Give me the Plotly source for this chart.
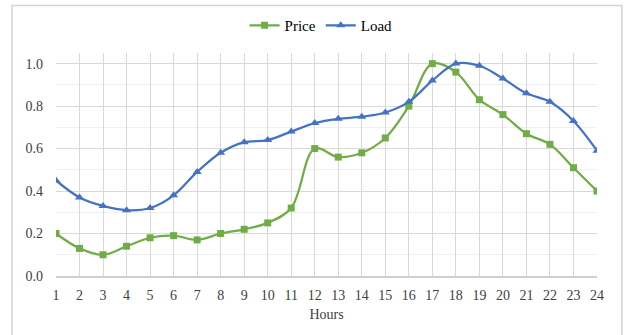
import plotly.graph_objects as go

# Hourly normalised profiles
hours = list(range(1, 25))
price = [0.20, 0.13, 0.10, 0.14, 0.18, 0.19, 0.17, 0.20, 0.22, 0.25, 0.32, 0.60,
         0.56, 0.58, 0.65, 0.80, 1.00, 0.96, 0.83, 0.76, 0.67, 0.62, 0.51, 0.40]
load = [0.45, 0.37, 0.33, 0.31, 0.32, 0.38, 0.49, 0.58, 0.63, 0.64, 0.68, 0.72,
        0.74, 0.75, 0.77, 0.82, 0.92, 1.00, 0.99, 0.93, 0.86, 0.82, 0.73, 0.59]
y_ticks = [0.0, 0.2, 0.4, 0.6, 0.8, 1.0]

GREEN = "#70AD47"
BLUE = "#4472C4"
FONT = "'Liberation Serif', 'Times New Roman', Times, serif"

fig = go.Figure()
fig.add_trace(go.Scatter(
    x=hours, y=price, name="Price", mode="lines+markers",
    line=dict(color=GREEN, width=2.25, shape="spline", smoothing=1.0),
    marker=dict(symbol="square", size=7, color=GREEN),
))
fig.add_trace(go.Scatter(
    x=hours, y=load, name="Load", mode="lines+markers",
    line=dict(color=BLUE, width=2.25, shape="spline", smoothing=1.0),
    marker=dict(symbol="triangle-up", size=8, color=BLUE),
))

fig.update_layout(
    width=625, height=335,
    margin=dict(l=56, r=28, t=53, b=59, autoexpand=False),
    paper_bgcolor="white", plot_bgcolor="white",
    font=dict(family=FONT, size=14, color="#404040"),
    legend=dict(orientation="h", x=0.49, xanchor="center", y=1.123, yanchor="middle",
                font=dict(family=FONT, size=15, color="#000000"),
                bgcolor="rgba(0,0,0,0)", traceorder="normal"),
    xaxis=dict(
        range=[1, 24], tickmode="array", tickvals=hours,
        ticktext=[str(h) for h in hours],
        showgrid=True, gridcolor="#d9d9d9", gridwidth=1,
        showline=True, linecolor="#d0d0d0", linewidth=1.5,
        zeroline=False, ticks="", ticklen=0,
        tickfont=dict(family=FONT, size=14, color="#404040"),
        ticklabelstandoff=5,
        title=dict(text="Hours", font=dict(family=FONT, size=14, color="#404040"), standoff=8),
    ),
    yaxis=dict(
        range=[0, 1.05], tickmode="array", tickvals=y_ticks,
        ticktext=[f"{v:.1f}" for v in y_ticks],
        showgrid=True, gridcolor="#d9d9d9", gridwidth=1,
        minor=dict(tickvals=[0.1, 0.3, 0.5, 0.7, 0.9], showgrid=True,
                   gridcolor="#f0f0f0", gridwidth=1),
        zeroline=False, showline=False, ticks="",
        tickfont=dict(family=FONT, size=14, color="#404040"),
        ticklabelstandoff=12,
    ),
    showlegend=True,
)

# Light outer chart frame
fig.add_shape(type="rect", xref="paper", yref="paper",
              x0=-0.0813, x1=1.046, y0=-0.4, y1=1.213,
              line=dict(color="#d4d4d4", width=1.5), fillcolor="rgba(0,0,0,0)",
              layer="above")

fig.write_html("out.html")
